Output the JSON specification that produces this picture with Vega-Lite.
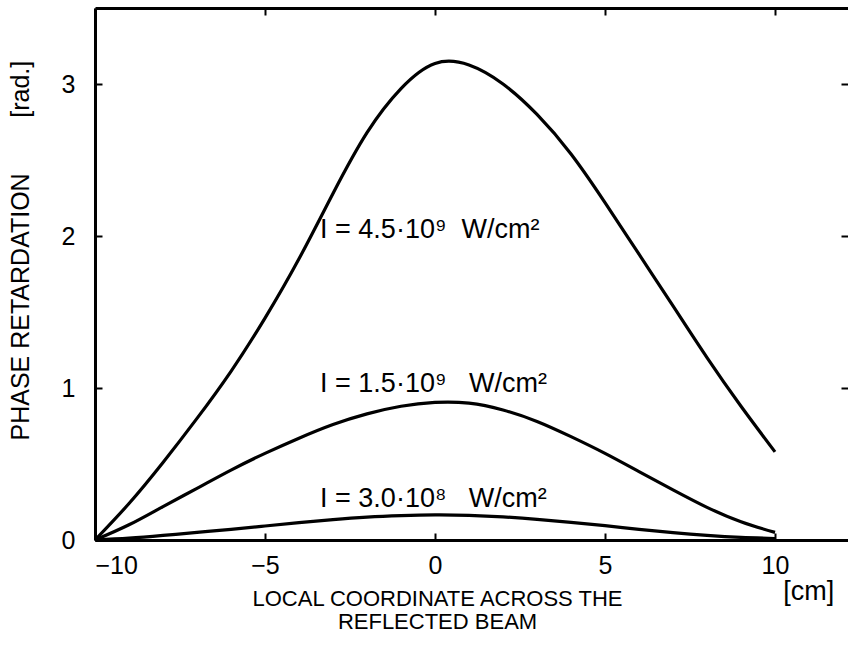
{
  "$schema": "https://vega.github.io/schema/vega-lite/v6.json",
  "width": 753,
  "height": 532,
  "autosize": {"type": "none"},
  "padding": {"left": 95, "top": 8, "right": 0, "bottom": 118},
  "background": "white",
  "config": {
    "view": {"stroke": null},
    "font": "Liberation Sans",
    "axis": {
      "grid": false,
      "domainColor": "black",
      "domainWidth": 3,
      "tickColor": "black",
      "tickWidth": 2,
      "tickSize": -7,
      "labelColor": "black",
      "labelFontSize": 25,
      "titleColor": "black",
      "titleFontWeight": "normal"
    }
  },
  "datasets": {
    "curves": [
      {"series": "A", "x": -10, "y": 0},
      {"series": "A", "x": -9, "y": 0.24},
      {"series": "A", "x": -8, "y": 0.51},
      {"series": "A", "x": -7, "y": 0.8},
      {"series": "A", "x": -6, "y": 1.11},
      {"series": "A", "x": -5, "y": 1.46},
      {"series": "A", "x": -4, "y": 1.85},
      {"series": "A", "x": -3, "y": 2.28},
      {"series": "A", "x": -2, "y": 2.68},
      {"series": "A", "x": -1, "y": 2.97},
      {"series": "A", "x": 0, "y": 3.135},
      {"series": "A", "x": 1, "y": 3.125},
      {"series": "A", "x": 2, "y": 3.0},
      {"series": "A", "x": 3, "y": 2.8},
      {"series": "A", "x": 4, "y": 2.54},
      {"series": "A", "x": 5, "y": 2.22},
      {"series": "A", "x": 6, "y": 1.88},
      {"series": "A", "x": 7, "y": 1.54},
      {"series": "A", "x": 8, "y": 1.2},
      {"series": "A", "x": 9, "y": 0.88},
      {"series": "A", "x": 10, "y": 0.58},
      {"series": "B", "x": -10, "y": 0},
      {"series": "B", "x": -9, "y": 0.1},
      {"series": "B", "x": -8, "y": 0.22},
      {"series": "B", "x": -7, "y": 0.34},
      {"series": "B", "x": -6, "y": 0.46},
      {"series": "B", "x": -5, "y": 0.57},
      {"series": "B", "x": -4, "y": 0.67},
      {"series": "B", "x": -3, "y": 0.76},
      {"series": "B", "x": -2, "y": 0.83},
      {"series": "B", "x": -1, "y": 0.88},
      {"series": "B", "x": 0, "y": 0.905},
      {"series": "B", "x": 1, "y": 0.9},
      {"series": "B", "x": 2, "y": 0.855},
      {"series": "B", "x": 3, "y": 0.78},
      {"series": "B", "x": 4, "y": 0.68},
      {"series": "B", "x": 5, "y": 0.57},
      {"series": "B", "x": 6, "y": 0.45},
      {"series": "B", "x": 7, "y": 0.33},
      {"series": "B", "x": 8, "y": 0.215},
      {"series": "B", "x": 9, "y": 0.12},
      {"series": "B", "x": 10, "y": 0.05},
      {"series": "C", "x": -10, "y": 0},
      {"series": "C", "x": -9, "y": 0.012},
      {"series": "C", "x": -8, "y": 0.03},
      {"series": "C", "x": -7, "y": 0.05},
      {"series": "C", "x": -6, "y": 0.07},
      {"series": "C", "x": -5, "y": 0.092},
      {"series": "C", "x": -4, "y": 0.114},
      {"series": "C", "x": -3, "y": 0.134},
      {"series": "C", "x": -2, "y": 0.15},
      {"series": "C", "x": -1, "y": 0.16},
      {"series": "C", "x": 0, "y": 0.165},
      {"series": "C", "x": 1, "y": 0.162},
      {"series": "C", "x": 2, "y": 0.152},
      {"series": "C", "x": 3, "y": 0.136},
      {"series": "C", "x": 4, "y": 0.116},
      {"series": "C", "x": 5, "y": 0.094},
      {"series": "C", "x": 6, "y": 0.07},
      {"series": "C", "x": 7, "y": 0.048},
      {"series": "C", "x": 8, "y": 0.03},
      {"series": "C", "x": 9, "y": 0.017},
      {"series": "C", "x": 10, "y": 0.01}
    ],
    "labels": [
      {"x": -3.38, "y": 1.987, "label": "I = 4.5·10⁹\u00a0\u00a0W/cm²"},
      {"x": -3.38, "y": 0.974, "label": "I = 1.5·10⁹\u00a0\u00a0\u00a0W/cm²"},
      {"x": -3.38, "y": 0.217, "label": "I = 3.0·10⁸\u00a0\u00a0\u00a0W/cm²"},
      {"x": 10.24, "y": -0.395, "label": "[cm]"}
    ]
  },
  "layer": [
    {
      "data": {"name": "curves"},
      "mark": {"type": "line", "color": "black", "strokeWidth": 3.2, "interpolate": "natural"},
      "encoding": {
        "x": {
          "field": "x", "type": "quantitative",
          "scale": {"domain": [-10, 12.147], "nice": false, "zero": false},
          "axis": {
            "orient": "bottom",
            "values": [-10, -5, 0, 5, 10],
            "labelPadding": 20,
            "title": ["LOCAL COORDINATE ACROSS THE", "REFLECTED BEAM"],
            "titleFontSize": 22,
            "titleX": 342,
            "titleY": 65,
            "titleAlign": "center",
            "titleBaseline": "alphabetic",
            "titleLineHeight": 23
          }
        },
        "y": {
          "field": "y", "type": "quantitative",
          "scale": {"domain": [0, 3.5], "nice": false},
          "axis": {
            "orient": "left",
            "values": [0, 1, 2, 3],
            "labelPadding": 27,
            "title": "PHASE RETARDATION\u00a0\u00a0\u00a0\u00a0\u00a0\u00a0\u00a0\u00a0[rad.]",
            "titleFontSize": 25,
            "titleAngle": -90,
            "titleAlign": "left",
            "titleBaseline": "alphabetic",
            "titleX": -67,
            "titleY": 432
          }
        },
        "detail": {"field": "series"}
      }
    },
    {
      "data": {"name": "labels"},
      "mark": {"type": "text", "align": "left", "baseline": "alphabetic", "fontSize": 27, "color": "black", "clip": false},
      "encoding": {
        "x": {
          "field": "x", "type": "quantitative",
          "scale": {"domain": [-10, 12.147], "nice": false, "zero": false},
          "axis": {"orient": "top", "values": [-10, -5, 0, 5, 10], "labels": false, "title": null}
        },
        "y": {
          "field": "y", "type": "quantitative",
          "scale": {"domain": [0, 3.5], "nice": false},
          "axis": {"orient": "right", "values": [0, 1, 2, 3], "labels": false, "domain": false, "title": null}
        },
        "text": {"field": "label"}
      }
    }
  ],
  "resolve": {"axis": {"x": "independent", "y": "independent"}}
}
